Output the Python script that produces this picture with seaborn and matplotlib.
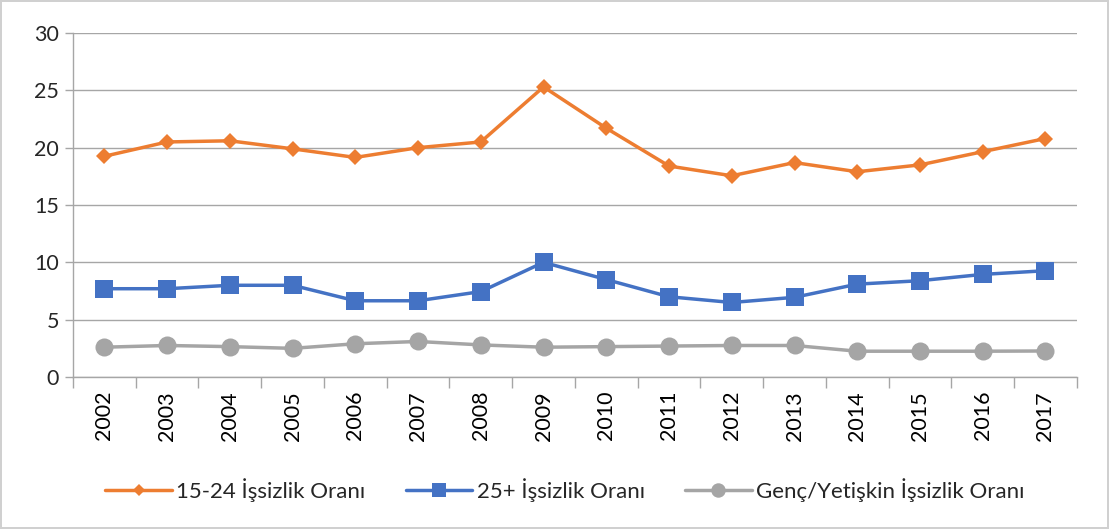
import seaborn as sns
import matplotlib.pyplot as plt
import pandas as pd
import numpy as np

years = [str(y) for y in range(2002, 2018)]
youth = [19.25, 20.5, 20.6, 19.9, 19.15, 20.0, 20.5, 25.3, 21.7, 18.4, 17.55, 18.7, 17.9, 18.5, 19.65, 20.8]
adult = [7.7, 7.7, 8.0, 8.0, 6.65, 6.65, 7.45, 10.0, 8.5, 7.0, 6.5, 6.95, 8.1, 8.4, 8.95, 9.27]
ratio = [2.6, 2.75, 2.65, 2.5, 2.9, 3.1, 2.8, 2.6, 2.65, 2.7, 2.75, 2.75, 2.25, 2.25, 2.25, 2.27]
labels = ["15-24 İşsizlik Oranı", "25+ İşsizlik Oranı", "Genç/Yetişkin İşsizlik Oranı"]

sns.set_theme(style="white")
plt.rcParams["font.family"] = ["Lato", "DejaVu Sans"]

fig = plt.figure(figsize=(11.09, 5.29), dpi=100, edgecolor="#D0D0D0", linewidth=1.5)
ax = fig.add_axes([0.0658, 0.2873, 0.9052, 0.6503])

grid_c = "#A6A6A6"
df = pd.DataFrame({"year": years, "youth": youth, "adult": adult, "ratio": ratio})
sns.lineplot(df, x="year", y="youth", ax=ax, color="#ED7D31", lw=2.5, marker="D",
             markersize=8, markeredgewidth=0, label=labels[0])
sns.lineplot(df, x="year", y="adult", ax=ax, color="#4472C4", lw=2.5, marker="s",
             markersize=13, markeredgewidth=0, label=labels[1])
sns.lineplot(df, x="year", y="ratio", ax=ax, color="#A5A5A5", lw=2.5, marker="o",
             markersize=13, markeredgewidth=0, label=labels[2])

ax.set_xlim(-0.5, len(years) - 0.5)
ax.set_ylim(0, 30)
ax.set_yticks(np.arange(0, 31, 5))
ax.set_xlabel("")
ax.set_ylabel("")
ax.yaxis.grid(True, color=grid_c, lw=1)
ax.set_axisbelow(True)
for s in ["top", "right"]:
    ax.spines[s].set_visible(False)
for s in ["left", "bottom"]:
    ax.spines[s].set_color(grid_c)
    ax.spines[s].set_linewidth(1)

ax.set_xticks(range(len(years)))
ax.set_xticklabels(years, rotation=90)
ax.set_xticks(np.arange(-0.5, len(years), 1), minor=True)
ax.tick_params(axis="x", which="major", length=0, pad=10, labelsize=15.5, colors="black")
ax.tick_params(axis="x", which="minor", length=8, color=grid_c, width=1, bottom=True)
ax.tick_params(axis="y", length=6, color=grid_c, width=1, left=True, labelsize=15.5, pad=4)

ax.legend(loc="center", bbox_to_anchor=(0.49, -0.328), ncol=3, frameon=False,
          fontsize=16, handlelength=3.0, columnspacing=1.8, markerscale=0.8, handletextpad=0.2)

plt.savefig("out.png", dpi=100, edgecolor=fig.get_edgecolor())
